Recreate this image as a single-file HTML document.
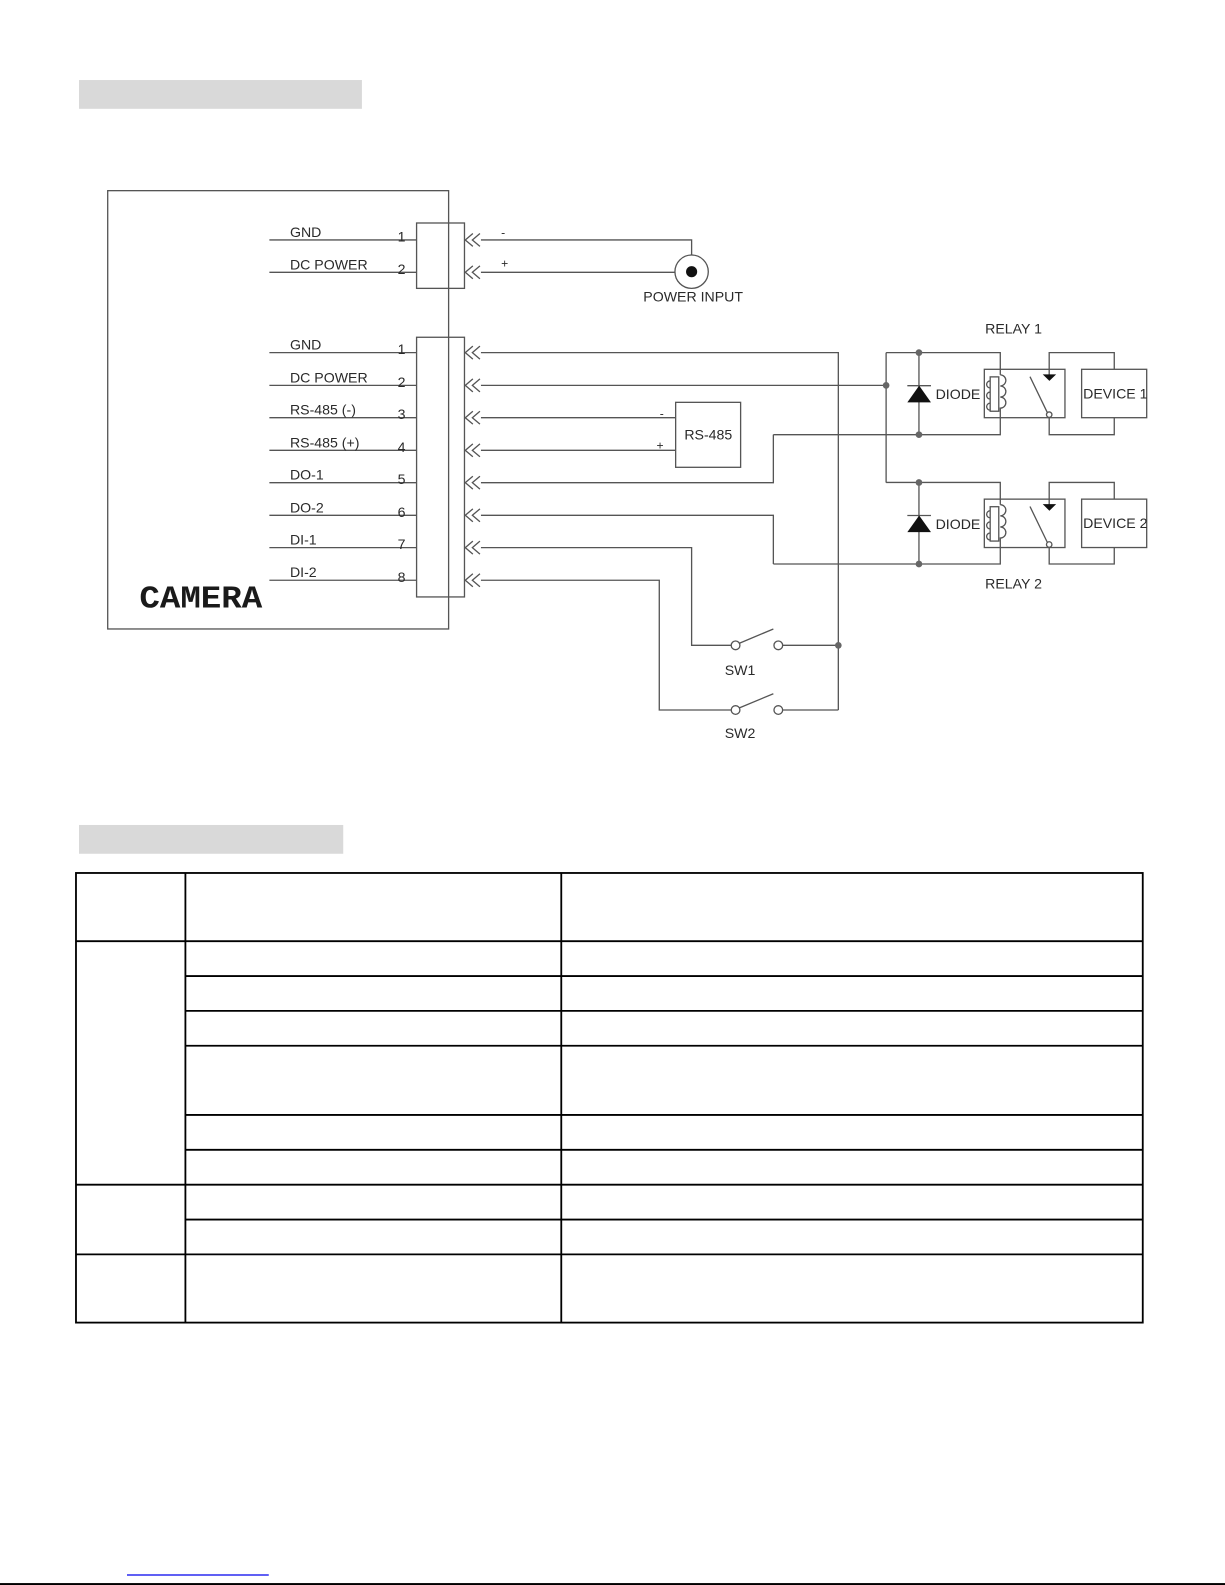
<!DOCTYPE html>
<html>
<head>
<meta charset="utf-8">
<style>
  html,body{margin:0;padding:0;background:#fff;}
  body{width:1225px;height:1585px;overflow:hidden;}
  svg{display:block;}
  .w{fill:none;stroke:#555;stroke-width:1.3;}
  .t{font-family:"Liberation Sans",Arial,sans-serif;font-size:14px;fill:#2a2a2a;}
</style>
</head>
<body>
<svg width="1225" height="1585" viewBox="0 0 1212.4 1568.7" preserveAspectRatio="none" xmlns="http://www.w3.org/2000/svg">
  <!-- header bars -->
  <rect x="78.2" y="79.2" width="280" height="28.5" fill="#d9d9d9"/>
  <rect x="78.2" y="816.5" width="261.5" height="28.5" fill="#d9d9d9"/>

  <!-- camera box -->
  <rect class="w" x="106.6" y="188.7" width="337.4" height="433.8"/>
  <text x="137.9" y="601.4" font-family="'Liberation Mono','Courier New',monospace" font-weight="bold" font-size="31" fill="#1a1a1a" textLength="121.7" lengthAdjust="spacingAndGlyphs">CAMERA</text>

  <!-- top connector -->
  <rect class="w" x="412.3" y="220.7" width="47.4" height="64.7"/>
  <path class="w" d="M266.6,237.5H412.3 M266.6,269.5H412.3"/>
  <text class="t" x="287" y="234.5">GND</text>
  <text class="t" x="287" y="266.5">DC POWER</text>
  <text class="t" x="393.5" y="239">1</text>
  <text class="t" x="393.5" y="271">2</text>
  <g class="w">
    <polyline points="468,231.1 460.5,237.5 468,243.9"/>
    <polyline points="475,231.1 467.5,237.5 475,243.9"/>
    <polyline points="468,263.1 460.5,269.5 468,275.9"/>
    <polyline points="475,263.1 467.5,269.5 475,275.9"/>
  </g>
  <path class="w" d="M476,237.5H684.5V252.4 M476,269.5H668"/>
  <circle cx="684.5" cy="268.9" r="16.5" fill="#fff" stroke="#555" stroke-width="1.3"/>
  <circle cx="684.5" cy="268.9" r="5.5" fill="#111"/>
  <text x="498" y="234" font-family="'Liberation Sans',Arial,sans-serif" font-size="12" fill="#2a2a2a" text-anchor="middle">-</text>
  <text x="499.5" y="265" font-family="'Liberation Sans',Arial,sans-serif" font-size="12" fill="#2a2a2a" text-anchor="middle">+</text>
  <text class="t" x="686" y="298.5" text-anchor="middle">POWER INPUT</text>

  <!-- main connector -->
  <rect class="w" x="412.3" y="333.8" width="47.4" height="257"/>
  <g class="w">
    <path d="M266.6,349H412.3 M266.6,381.4H412.3 M266.6,413.4H412.3 M266.6,445.7H412.3 M266.6,477.7H412.3 M266.6,510H412.3 M266.6,542H412.3 M266.6,574.3H412.3"/>
  </g>
  <g class="t">
    <text x="287" y="346">GND</text>
    <text x="287" y="378.4">DC POWER</text>
    <text x="287" y="410.4">RS-485 (-)</text>
    <text x="287" y="442.7">RS-485 (+)</text>
    <text x="287" y="474.7">DO-1</text>
    <text x="287" y="507">DO-2</text>
    <text x="287" y="539">DI-1</text>
    <text x="287" y="571.3">DI-2</text>
    <text x="393.5" y="350.5">1</text>
    <text x="393.5" y="382.9">2</text>
    <text x="393.5" y="414.9">3</text>
    <text x="393.5" y="447.2">4</text>
    <text x="393.5" y="479.2">5</text>
    <text x="393.5" y="511.5">6</text>
    <text x="393.5" y="543.5">7</text>
    <text x="393.5" y="575.8">8</text>
  </g>
  <g class="w">
    <polyline points="468,342.6 460.5,349 468,355.4"/><polyline points="475,342.6 467.5,349 475,355.4"/>
    <polyline points="468,375 460.5,381.4 468,387.8"/><polyline points="475,375 467.5,381.4 475,387.8"/>
    <polyline points="468,407 460.5,413.4 468,419.8"/><polyline points="475,407 467.5,413.4 475,419.8"/>
    <polyline points="468,439.3 460.5,445.7 468,452.1"/><polyline points="475,439.3 467.5,445.7 475,452.1"/>
    <polyline points="468,471.3 460.5,477.7 468,484.1"/><polyline points="475,471.3 467.5,477.7 475,484.1"/>
    <polyline points="468,503.6 460.5,510 468,516.4"/><polyline points="475,503.6 467.5,510 475,516.4"/>
    <polyline points="468,535.6 460.5,542 468,548.4"/><polyline points="475,535.6 467.5,542 475,548.4"/>
    <polyline points="468,567.9 460.5,574.3 468,580.7"/><polyline points="475,567.9 467.5,574.3 475,580.7"/>
  </g>

  <!-- wiring -->
  <g class="w">
    <path d="M476,349H829.7V702.7"/>
    <path d="M476,381.4H877"/>
    <path d="M476,413.4H668.7 M476,445.7H668.7"/>
    <path d="M476,477.7H765.4V430.2"/>
    <path d="M476,510H765.4V558.2"/>
    <path d="M476,542H684.5V638.7H723.7 M732.7,638.7"/>
    <path d="M774.6,638.7H829.7"/>
    <path d="M476,574.3H652.5V702.7H723.7"/>
    <path d="M774.6,702.7H829.7"/>
    <path d="M877,349V477.7"/>
  </g>
  <circle cx="829.7" cy="638.7" r="3.3" fill="#666"/>
  <circle cx="877" cy="381.4" r="3.3" fill="#666"/>

  <!-- RS-485 box -->
  <rect class="w" x="668.7" y="398.2" width="64.3" height="64.3"/>
  <text class="t" x="701" y="435" text-anchor="middle">RS-485</text>
  <text x="655" y="413" font-family="'Liberation Sans',Arial,sans-serif" font-size="12" fill="#2a2a2a" text-anchor="middle">-</text>
  <text x="653.2" y="444.8" font-family="'Liberation Sans',Arial,sans-serif" font-size="12" fill="#2a2a2a" text-anchor="middle">+</text>

  <!-- switches -->
  <g class="w">
    <circle cx="728" cy="638.7" r="4.3" fill="#fff"/>
    <circle cx="770.3" cy="638.7" r="4.3" fill="#fff"/>
    <line x1="731.8" y1="636.6" x2="765.4" y2="622.5"/>
    <circle cx="728" cy="702.7" r="4.3" fill="#fff"/>
    <circle cx="770.3" cy="702.7" r="4.3" fill="#fff"/>
    <line x1="731.8" y1="700.6" x2="765.4" y2="686.6"/>
  </g>
  <text class="t" x="732.4" y="668" text-anchor="middle">SW1</text>
  <text class="t" x="732.4" y="730.4" text-anchor="middle">SW2</text>

  <!-- relays -->
  <text class="t" x="975" y="330">RELAY 1</text>
  <text class="t" x="975" y="582.3">RELAY 2</text>

  <g id="relay">
    <g class="w">
      <path d="M877,349H990V371"/>
      <path d="M990,371a5.5,5.5 0 0 1 0,11a5.5,5.5 0 0 1 0,11a5.5,5.5 0 0 1 0,11V430.2H765.4"/>
      <rect x="980" y="373" width="8.5" height="34"/>
      <path d="M980,377a3.2,3.2 0 0 0 0,7 M980,388a3.2,3.2 0 0 0 0,7 M980,399a3.2,3.2 0 0 0 0,7"/>
      <path d="M909.5,349V430.2"/>
      <line x1="898" y1="381.7" x2="921.4" y2="381.7"/>
      <rect x="974.2" y="365.5" width="79.8" height="47.9"/>
      <line x1="1019.4" y1="372.8" x2="1036.5" y2="408.2"/>
      <circle cx="1038.4" cy="410.4" r="2.7" fill="#fff"/>
      <path d="M1038.4,371V349H1102.8V365.5"/>
      <path d="M1038.4,413.1V430.2H1102.8V413.4"/>
      <rect x="1070.5" y="365.5" width="64.4" height="47.9"/>
    </g>
    <polygon points="898,398.2 921.4,398.2 909.7,381.7" fill="#111"/>
    <polygon points="1032,370.5 1045.3,370.5 1038.6,377" fill="#111"/>
    <circle cx="909.5" cy="349" r="3.3" fill="#666"/>
    <circle cx="909.5" cy="430.2" r="3.3" fill="#666"/>
    <text class="t" x="926" y="395">DIODE</text>
  </g>
  <text class="t" x="1072" y="394.2">DEVICE 1</text>

  <g transform="translate(0,128.5)">
    <g class="w">
      <path d="M877,349H990V371"/>
      <path d="M990,371a5.5,5.5 0 0 1 0,11a5.5,5.5 0 0 1 0,11a5.5,5.5 0 0 1 0,11V429.7H765.4"/>
      <rect x="980" y="373" width="8.5" height="34"/>
      <path d="M980,377a3.2,3.2 0 0 0 0,7 M980,388a3.2,3.2 0 0 0 0,7 M980,399a3.2,3.2 0 0 0 0,7"/>
      <path d="M909.5,349V429.7"/>
      <line x1="898" y1="381.7" x2="921.4" y2="381.7"/>
      <rect x="974.2" y="365.5" width="79.8" height="47.9"/>
      <line x1="1019.4" y1="372.8" x2="1036.5" y2="408.2"/>
      <circle cx="1038.4" cy="410.4" r="2.7" fill="#fff"/>
      <path d="M1038.4,371V349H1102.8V365.5"/>
      <path d="M1038.4,413.1V429.7H1102.8V413.4"/>
      <rect x="1070.5" y="365.5" width="64.4" height="47.9"/>
    </g>
    <polygon points="898,398.2 921.4,398.2 909.7,381.7" fill="#111"/>
    <polygon points="1032,370.5 1045.3,370.5 1038.6,377" fill="#111"/>
    <circle cx="909.5" cy="349" r="3.3" fill="#666"/>
    <circle cx="909.5" cy="429.7" r="3.3" fill="#666"/>
    <text class="t" x="926" y="395">DIODE</text>
    <text class="t" x="1072" y="394.2">DEVICE 2</text>
  </g>

  <!-- table -->
  <g stroke="#000" stroke-width="1.8" fill="none">
    <rect x="75.2" y="864" width="1055.8" height="445"/>
    <line x1="183.5" y1="864" x2="183.5" y2="1309"/>
    <line x1="555.5" y1="864" x2="555.5" y2="1309"/>
    <line x1="75.2" y1="931.5" x2="1131" y2="931.5"/>
    <line x1="183.5" y1="966" x2="1131" y2="966"/>
    <line x1="183.5" y1="1000.5" x2="1131" y2="1000.5"/>
    <line x1="183.5" y1="1035" x2="1131" y2="1035"/>
    <line x1="183.5" y1="1103.5" x2="1131" y2="1103.5"/>
    <line x1="183.5" y1="1138" x2="1131" y2="1138"/>
    <line x1="75.2" y1="1172.5" x2="1131" y2="1172.5"/>
    <line x1="183.5" y1="1207" x2="1131" y2="1207"/>
    <line x1="75.2" y1="1241.5" x2="1131" y2="1241.5"/>
  </g>

  <!-- footer -->
  <line x1="125.7" y1="1558.8" x2="266" y2="1558.8" stroke="#0000ee" stroke-width="1.2"/>
  <rect x="0" y="1566.8" width="1212.4" height="1.9" fill="#000"/>
</svg>
</body>
</html>
